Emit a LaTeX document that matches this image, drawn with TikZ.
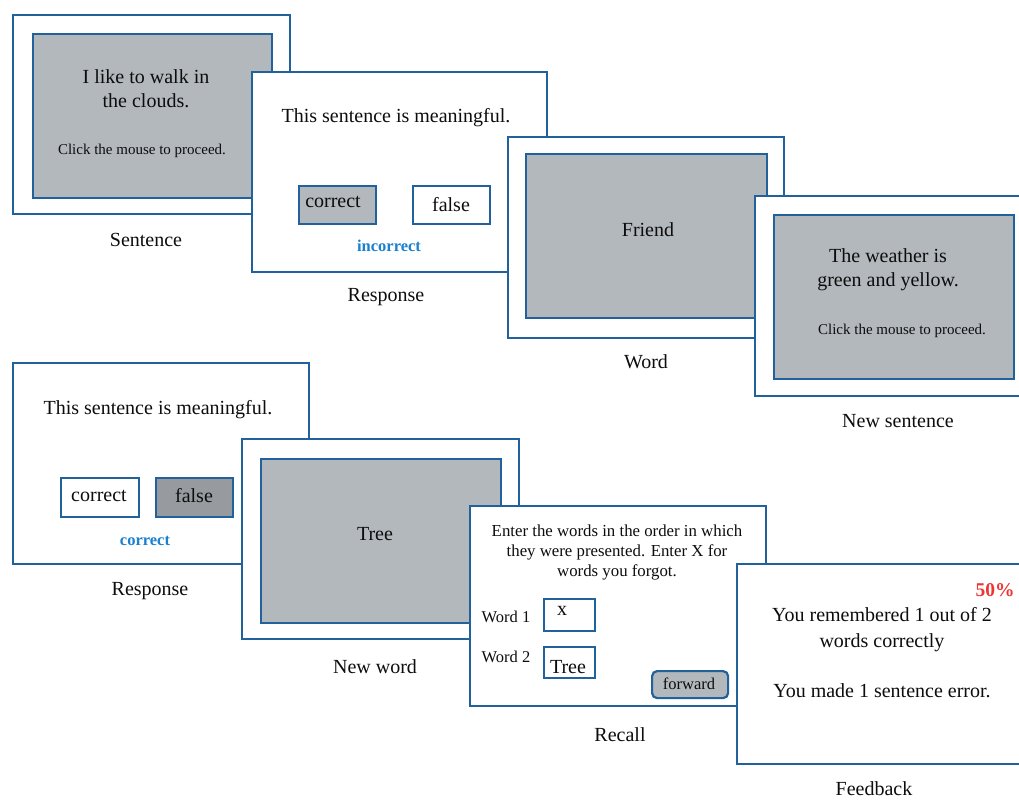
\documentclass[tikz,border=0pt]{standalone}
\usepackage{fontspec}
\setmainfont{Liberation Serif}
\definecolor{bord}{HTML}{21629C}
\definecolor{scr}{HTML}{B3B8BC}
\definecolor{dark}{HTML}{979B9F}
\definecolor{bluetxt}{HTML}{1A80D0}
\definecolor{redtxt}{HTML}{F03434}
\newcommand{\fs}[2]{\fontsize{#1}{#2}\selectfont}
\begin{document}
\begin{tikzpicture}[x=1pt,y=-1pt,
  box/.style={draw=bord, line width=2.4pt, rectangle, inner sep=0pt, anchor=north west},
  panel/.style={box, fill=white},
  screen/.style={box, fill=scr},
  btn/.style={box, line width=2.2pt},
  txt/.style={font=\fs{20}{24}, align=center, inner sep=0pt, text=black!95},
  small/.style={font=\fs{15}{18}, align=center, inner sep=0pt, text=black!95},
  lbl/.style={font=\fs{20}{24}, inner sep=0pt, text=black!95}]
\clip (0,0) rectangle (1019,800);
\fill[white] (0,0) rectangle (1019,800);

% ---------- top row ----------
% Sentence
\node[panel, minimum width=277pt, minimum height=199pt] (s1) at (12,14) {};
\node[screen, minimum width=239pt, minimum height=164pt] (s1in) at (32,33) {};
\node[txt] (s1t) at (146,89) {I like to walk in\\the clouds.};
\node[small] (s1c) at (142,151) {Click the mouse to proceed.};
\node[lbl] (s1l) at (146,240) {Sentence};

% Response
\node[panel, minimum width=295pt, minimum height=200pt] (r1) at (251,71) {};
\node[txt] (r1t) at (396,118) {This sentence is meaningful.};
\node[btn, fill=scr, minimum width=77pt, minimum height=38pt] (r1c) at (298,185) {};
\node[txt] at (333,202) {correct};
\node[btn, fill=white, minimum width=77pt, minimum height=38pt] (r1f) at (412,185) {};
\node[txt] at (451,205) {false};
\node[font=\fs{16.5}{20}\bfseries, text=bluetxt, inner sep=0pt] (r1fb) at (389,246) {incorrect};
\node[lbl] (r1l) at (386,297) {Response};

% Word
\node[panel, minimum width=276pt, minimum height=201pt] (w1) at (507,136) {};
\node[screen, minimum width=241pt, minimum height=164pt] (w1in) at (525,153) {};
\node[txt] (w1t) at (648,230) {Friend};
\node[lbl] (w1l) at (646,362) {Word};

% New sentence
\node[panel, minimum width=290pt, minimum height=200pt] (s2) at (754,195) {};
\node[screen, minimum width=240pt, minimum height=164pt] (s2in) at (773,214) {};
\node[txt] (s2t) at (888,269.5) {The weather is\\green and yellow.};
\node[small] (s2c) at (902,331) {Click the mouse to proceed.};
\node[lbl] (s2l) at (898,421) {New sentence};

% ---------- bottom row ----------
% Response 2
\node[panel, minimum width=296pt, minimum height=201pt] (r2) at (12,362) {};
\node[txt] (r2t) at (158,410) {This sentence is meaningful.};
\node[btn, fill=white, minimum width=78pt, minimum height=39pt] (r2c) at (60,477) {};
\node[txt] at (99,496) {correct};
\node[btn, fill=dark, minimum width=77pt, minimum height=39pt] (r2f) at (155,477) {};
\node[txt] at (194,496) {false};
\node[font=\fs{16.5}{20}\bfseries, text=bluetxt, inner sep=0pt] (r2fb) at (145,541) {correct};
\node[lbl] (r2l) at (150,591) {Response};

% New word
\node[panel, minimum width=277pt, minimum height=200pt] (w2) at (241,438) {};
\node[screen, minimum width=240pt, minimum height=164pt] (w2in) at (260,458) {};
\node[txt] (w2t) at (375,534) {Tree};
\node[lbl] (w2l) at (375,667) {New word};

% Recall
\node[panel, minimum width=296pt, minimum height=200pt] (rc) at (469,505) {};
\node[font=\fs{16.8}{20}, align=center, inner sep=0pt, text=black!95] (rct) at (617,552)
  {Enter the words in the order in which\\they were presented. Enter X for\\words you forgot.};
\node[font=\fs{16.5}{20}, inner sep=0pt, text=black!95] (rw1) at (506,617) {Word 1};
\node[btn, fill=white, minimum width=51pt, minimum height=32pt] (rb1) at (543,598) {};
\node[txt] at (562,611) {x};
\node[font=\fs{16.5}{20}, inner sep=0pt, text=black!95] (rw2) at (506,657) {Word 2};
\node[btn, fill=white, minimum width=51pt, minimum height=31pt] (rb2) at (543,646) {};
\node[txt] at (568,667) {Tree};
\node[btn, fill=scr, rounded corners=5pt, minimum width=76pt, minimum height=27pt] (rf) at (651,670) {};
\node[font=\fs{16.5}{20}, inner sep=0pt, text=black!95] at (689,684) {forward};
\node[lbl] (rcl) at (620,735) {Recall};

% Feedback
\node[panel, minimum width=300pt, minimum height=200pt] (fb) at (736,563) {};
\node[font=\fs{19.5}{24}\bfseries, text=redtxt, inner sep=0pt] (fbp) at (995,590) {50\%};
\node[txt, font=\fs{20}{26}] (fbt) at (882,630) {You remembered 1 out of 2\\words correctly};
\node[txt] (fbe) at (882,691) {You made 1 sentence error.};
\node[lbl] (fbl) at (874,789) {Feedback};
\end{tikzpicture}
\end{document}
